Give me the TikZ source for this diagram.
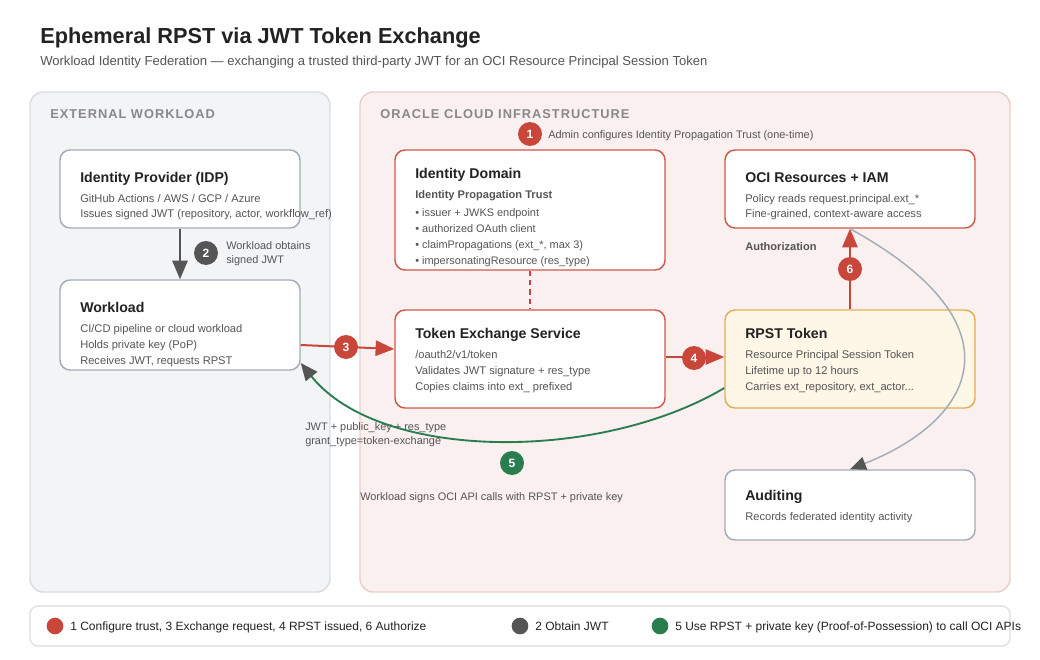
\documentclass[tikz,border=0pt]{standalone}
\usepackage{fontspec}
\setmainfont{Liberation Sans}
\usetikzlibrary{arrows.meta,fit,calc}
\definecolor{ired}{HTML}{C8473A}
\definecolor{boxred}{HTML}{D0584B}
\definecolor{dgrey}{HTML}{555555}
\definecolor{igreen}{HTML}{2A7D4F}
\definecolor{boxgrey}{HTML}{A3ADB8}
\definecolor{lfill}{HTML}{F3F4F6}
\definecolor{lstroke}{HTML}{D8DDE3}
\definecolor{rfill}{HTML}{F9F0EF}
\definecolor{rstroke}{HTML}{EBCFCA}
\definecolor{rpfill}{HTML}{FEF6E7}
\definecolor{rpstroke}{HTML}{E3AE55}
\definecolor{tdark}{HTML}{222222}
\definecolor{tbody}{HTML}{555555}
\definecolor{tpanel}{HTML}{888888}
\definecolor{legstroke}{HTML}{DDDDDD}
\begin{document}
\begin{tikzpicture}[x=0.75pt,y=-0.75pt,
  panel/.style={draw=#1, line width=1.1pt, rounded corners=10pt, inner sep=0pt},
  card/.style={draw=#1, fill=white, line width=1.1pt, rounded corners=7.5pt, inner sep=0pt},
  ttl/.style={anchor=base west, inner sep=0pt, text=tdark, font=\bfseries\fontsize{10.6}{12}\selectfont},
  txt/.style={anchor=base west, inner sep=0pt, text=tbody, font=\fontsize{8.35}{10}\selectfont},
  sml/.style={anchor=base west, inner sep=0pt, text=tbody, font=\fontsize{8.2}{10}\selectfont},
  smb/.style={anchor=base west, inner sep=0pt, text=tbody, font=\bfseries\fontsize{8.3}{10}\selectfont},
  plab/.style={anchor=base west, inner sep=0pt, text=tpanel, font=\bfseries\fontsize{9.6}{11}\selectfont\addfontfeature{LetterSpace=8}},
  badge/.style={circle, fill=#1, text=white, font=\bfseries\fontsize{9}{10}\selectfont, minimum size=18pt, inner sep=0pt},
  dot/.style={circle, fill=#1, minimum size=12.5pt, inner sep=0pt},
  leg/.style={anchor=base west, inner sep=0pt, text=tdark, font=\fontsize{9}{11}\selectfont},
  arr/.style={line width=1.5pt, draw=#1, -{Triangle[length=14pt,width=11.5pt,fill=#1]}},
]
\useasboundingbox (0,0) rectangle (1040,660);
\fill[white] (0,0) rectangle (1040,660);

% title
\node[anchor=base west, inner sep=0pt, text=tdark, font=\bfseries\fontsize{16.3}{19}\selectfont] (title) at (40,44) {Ephemeral RPST via JWT Token Exchange};
\node[anchor=base west, inner sep=0pt, text=tbody, font=\fontsize{9.8}{12}\selectfont] (subtitle) at (40,66) {Workload Identity Federation — exchanging a trusted third-party JWT for an OCI Resource Principal Session Token};

% panels
\node[panel=lstroke, fill=lfill, fit={(30,92)(330,592)}] (ext) {};
\node[panel=rstroke, fill=rfill, fit={(360,92)(1010,592)}] (oci) {};
\node[plab] (extlab) at (50,118) {EXTERNAL WORKLOAD};
\node[plab] (ocilab) at (380,118) {ORACLE CLOUD INFRASTRUCTURE};

% IDP
\node[card=boxgrey, fit={(60,150)(300,228)}] (idp) {};
\node[ttl] (idpt) at (80,182) {Identity Provider (IDP)};
\node[txt] (idp1) at (80,202) {GitHub Actions / AWS / GCP / Azure};
\node[txt] (idp2) at (80,218) {Issues signed JWT (repository, actor, workflow\_ref)};

% Workload
\node[card=boxgrey, fit={(60,280)(300,370)}] (wl) {};
\node[ttl] (wlt) at (80,312) {Workload};
\node[txt] (wl1) at (80,332) {CI/CD pipeline or cloud workload};
\node[txt] (wl2) at (80,348) {Holds private key (PoP)};
\node[txt] (wl3) at (80,364) {Receives JWT, requests RPST};

% Identity Domain
\node[card=boxred, fit={(395,150)(665,270)}] (idd) {};
\node[ttl] (iddt) at (415,178) {Identity Domain};
\node[smb] (idds) at (415,198) {Identity Propagation Trust};
\node[sml] (idd1) at (415,216) {• issuer + JWKS endpoint};
\node[sml] (idd2) at (415,232) {• authorized OAuth client};
\node[sml] (idd3) at (415,248) {• claimPropagations (ext\_*, max 3)};
\node[sml] (idd4) at (415,264) {• impersonatingResource (res\_type)};

% Token Exchange Service
\node[card=boxred, fit={(395,310)(665,408)}] (tes) {};
\node[ttl] (test) at (415,338) {Token Exchange Service};
\node[txt] (tes1) at (415,358) {/oauth2/v1/token};
\node[txt] (tes2) at (415,374) {Validates JWT signature + res\_type};
\node[txt] (tes3) at (415,390) {Copies claims into ext\_ prefixed};

% OCI Resources
\node[card=boxred, fit={(725,150)(975,228)}] (res) {};
\node[ttl] (rest) at (745,182) {OCI Resources + IAM};
\node[txt] (res1) at (745,202) {Policy reads request.principal.ext\_*};
\node[txt] (res2) at (745,218) {Fine-grained, context-aware access};
\node[smb] (authz) at (745,250) {Authorization};

% RPST Token
\node[card=rpstroke, fill=rpfill, fit={(725,310)(975,408)}] (rpst) {};
\node[ttl] (rpstt) at (745,338) {RPST Token};
\node[txt] (rp1) at (745,358) {Resource Principal Session Token};
\node[txt] (rp2) at (745,374) {Lifetime up to 12 hours};
\node[txt] (rp3) at (745,390) {Carries ext\_repository, ext\_actor...};

% Auditing
\node[card=boxgrey, fit={(725,470)(975,540)}] (aud) {};
\node[ttl] (audt) at (745,500) {Auditing};
\node[txt] (aud1) at (745,520) {Records federated identity activity};

% connectors
\draw[arr=dgrey] (idp.south) -- (wl.north);
\node[badge=dgrey] (b2) at (206,253) {2};
\node[sml] (b2a) at (226,249) {Workload obtains};
\node[sml] (b2b) at (226,263) {signed JWT};

\draw[ired, line width=1.1pt, dash pattern=on 4pt off 3pt] (idd.south) -- (tes.north);
\node[badge=ired] (b1) at (530,134) {1};
\node[sml] (b1t) at (548,138) {Admin configures Identity Propagation Trust (one-time)};

\draw[arr=ired] (wl.east |- 0,345) -- (tes.west |- 0,349);
\node[badge=ired] (b3) at (346,347) {3};
\node[sml] (l3a) at (305,430) {JWT + public\_key + res\_type};
\node[sml] (l3b) at (305,444) {grant\_type=token-exchange};

\draw[arr=ired] (tes.east |- 0,357) -- (rpst.west |- 0,357);
\node[badge=ired] (b4) at (694,358) {4};

\draw[arr=ired] (rpst.north) -- (res.south);
\node[badge=ired] (b6) at (850,269) {6};

\draw[boxgrey, line width=1.1pt, -{Triangle[length=12pt,width=10pt,color=dgrey,fill=dgrey]}] (res.south) .. controls (1025,325) and (975,420) .. (aud.north);

\draw[igreen, line width=1.4pt, -{Triangle[length=13pt,width=11pt,color=dgrey,fill=dgrey]}] (rpst.west |- 0,388) .. controls (600,462) and (380,462) .. (wl.east |- 0,363);
\node[badge=igreen] (b5) at (512,463) {5};
\node[sml] (l5) at (360,500) {Workload signs OCI API calls with RPST + private key};

% legend
\node[draw=legstroke, fill=white, line width=0.9pt, rounded corners=6pt, inner sep=0pt, fit={(30,606)(1010,646)}] (legend) {};
\node[dot=ired] (d1) at (55,626) {};
\node[leg] (lt1) at (70,630) {1 Configure trust, 3 Exchange request, 4 RPST issued, 6 Authorize};
\node[dot=dgrey] (d2) at (520,626) {};
\node[leg] (lt2) at (535,630) {2 Obtain JWT};
\node[dot=igreen] (d3) at (660,626) {};
\node[leg] (lt3) at (675,630) {5 Use RPST + private key (Proof-of-Possession) to call OCI APIs};
\end{tikzpicture}
\end{document}
